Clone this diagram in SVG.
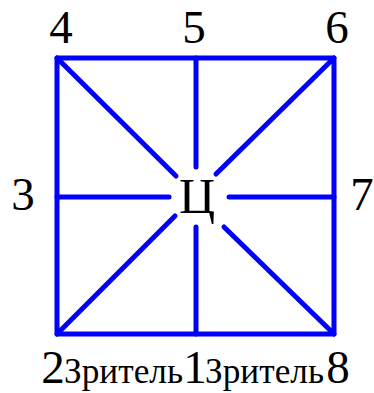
<svg xmlns="http://www.w3.org/2000/svg" width="374" height="393" viewBox="0 0 374 393">
<style>
.e{stroke:#0000ff;stroke-width:5;fill:none;stroke-linecap:round;stroke-linejoin:round}
.t{font-family:"Liberation Serif","Times New Roman",serif;fill:#000}
.d{font-size:47px;text-anchor:middle}
.s{font-size:35px}
</style>
<rect x="0" y="0" width="374" height="393" fill="#fff"/>
<g id="connectors">
<rect class="e" x="57" y="58" width="277" height="276"/>
<line class="e" x1="57" y1="197" x2="169" y2="197"/>
<line class="e" x1="229" y1="197" x2="334" y2="197"/>
<line class="e" x1="196" y1="58" x2="196" y2="167"/>
<line class="e" x1="196" y1="227" x2="196" y2="334"/>
<line class="e" x1="57" y1="58" x2="176" y2="176"/>
<line class="e" x1="334" y1="58" x2="216" y2="174"/>
<line class="e" x1="57" y1="334" x2="175" y2="216"/>
<line class="e" x1="334" y1="334" x2="224" y2="227"/>
</g>
<g id="n4"><text class="t d" x="61" y="43">4</text></g>
<g id="n5"><text class="t d" x="194" y="43">5</text></g>
<g id="n6"><text class="t d" x="337" y="43">6</text></g>
<g id="n3"><text class="t d" x="23" y="210">3</text></g>
<g id="n7"><text class="t d" x="362" y="210">7</text></g>
<g id="nC"><text class="t" x="197" y="213" font-size="50" text-anchor="middle">Ц</text></g>
<g id="n2"><text class="t d" x="53" y="383">2</text></g>
<g id="v1"><text class="t s" x="64" y="383" textLength="119" lengthAdjust="spacingAndGlyphs">Зритель</text></g>
<g id="n1"><text class="t d" x="195" y="383">1</text></g>
<g id="v2"><text class="t s" x="205" y="383" textLength="119" lengthAdjust="spacingAndGlyphs">Зритель</text></g>
<g id="n8"><text class="t d" x="338" y="383">8</text></g>
</svg>
